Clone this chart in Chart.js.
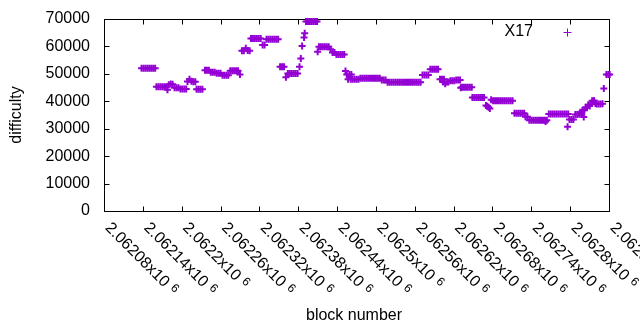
<!DOCTYPE html>
<html>
<head>
<meta charset="utf-8">
<script src="https://cdn.jsdelivr.net/npm/chart.js@4/dist/chart.umd.min.js"></script>
<style>
  html, body { margin: 0; padding: 0; background: #fff; }
  canvas { display: block; }
</style>
</head>
<body>
<canvas id="chart" width="640" height="330"></canvas>
<script>
// difficulty per block
const blockNumbers = [
  2062138, 2062141, 2062144, 2062147, 2062150, 2062153, 2062156, 2062159,
  2062161, 2062164, 2062167, 2062170, 2062173, 2062176, 2062178,
  2062180, 2062183, 2062186, 2062189, 2062192, 2062195,
  2062198, 2062201, 2062204, 2062207,
  2062209, 2062212, 2062215, 2062218, 2062221,
  2062223, 2062226, 2062229, 2062232,
  2062236, 2062239, 2062242,
  2062245, 2062248, 2062251, 2062254, 2062257, 2062260,
  2062263, 2062266, 2062269, 2062272,
  2062275, 2062278, 2062281, 2062284, 2062287, 2062290,
  2062293, 2062296, 2062299, 2062302, 2062305,
  2062307, 2062310, 2062313, 2062316, 2062319, 2062322,
  2062325, 2062328,
  2062331, 2062334, 2062337, 2062340, 2062343, 2062346, 2062349,
  2062352, 2062355, 2062358,
  2062361, 2062364, 2062367, 2062370, 2062373, 2062376, 2062379,
  2062382, 2062384, 2062386, 2062389, 2062390,
  2062392, 2062395, 2062398, 2062401, 2062404, 2062407, 2062409,
  2062410, 2062412, 2062415, 2062418, 2062421, 2062424, 2062427,
  2062430, 2062433, 2062436,
  2062439, 2062442, 2062445, 2062448, 2062451,
  2062453, 2062455, 2062457, 2062459, 2062461, 2062462, 2062464, 2062467, 2062470, 2062473,
  2062476, 2062479, 2062482, 2062485, 2062488, 2062491, 2062494, 2062497, 2062500, 2062503, 2062506,
  2062509, 2062512, 2062515,
  2062518, 2062521, 2062524, 2062527, 2062530, 2062533, 2062536, 2062539, 2062542,
  2062545, 2062548, 2062551, 2062554, 2062557, 2062560, 2062563, 2062566, 2062569,
  2062572, 2062575, 2062578, 2062581,
  2062584, 2062587, 2062590, 2062593, 2062596,
  2062599, 2062602, 2062604, 2062605, 2062607, 2062610, 2062612,
  2062615, 2062618, 2062621,
  2062624, 2062627, 2062630,
  2062631, 2062633, 2062636, 2062639, 2062642, 2062645, 2062648,
  2062649, 2062652, 2062655, 2062658, 2062661, 2062664, 2062667,
  2062670, 2062672, 2062674, 2062676,
  2062678, 2062681, 2062684, 2062687, 2062690, 2062693, 2062696, 2062699, 2062702, 2062705, 2062708, 2062711,
  2062714, 2062717, 2062720, 2062723, 2062726, 2062729,
  2062731, 2062734,
  2062737, 2062740, 2062743, 2062746, 2062749, 2062752, 2062755, 2062758, 2062761, 2062762, 2062764,
  2062767, 2062770, 2062773, 2062776, 2062779, 2062782, 2062785, 2062788, 2062791, 2062794, 2062797,
  2062796, 2062799, 2062802, 2062805,
  2062808, 2062811, 2062814, 2062816, 2062818, 2062819, 2062821, 2062822, 2062824, 2062826,
  2062828, 2062830, 2062832, 2062834, 2062836, 2062837, 2062839, 2062841, 2062844, 2062847, 2062850,
  2062852, 2062856, 2062859, 2062861
];
const difficulty = [
  52000, 52000, 52000, 52000, 52000, 52000, 52000, 52000,
  45300, 45300, 45300, 45300, 45300, 45300, 44200,
  46000, 46300, 46200, 44900, 44900, 44900,
  44500, 44500, 44500, 44500,
  47200, 48000, 47300, 47100, 47100,
  44400, 44400, 44400, 44400,
  51300, 51300, 51300,
  50600, 50600, 50600, 50200, 50200, 50200,
  49500, 49500, 49500, 49500,
  51100, 51100, 51100, 51100, 51100, 49800,
  58400, 58400, 59300, 58500, 58400,
  62900, 62900, 62900, 62900, 62900, 62900,
  60500, 60500,
  62600, 62600, 62600, 62600, 62600, 62600, 62600,
  52600, 52600, 52600,
  48800, 50100, 50100, 50100, 50100, 50100, 50100,
  52600, 55600, 60200, 63300, 64800,
  69100, 69100, 69100, 69100, 69100, 69100, 69100,
  58100, 59900, 59900, 59900, 59900, 59900, 59900,
  59000, 57800, 57800,
  57100, 57100, 57100, 57100, 57100,
  51000, 49800, 48000, 49800, 48000, 49800, 48000, 48000, 48000, 48000,
  48400, 48400, 48400, 48400, 48400, 48400, 48400, 48400, 48400, 48400, 48400,
  47800, 47800, 47800,
  46900, 46900, 46900, 46900, 46900, 46900, 46900, 46900, 46900,
  46900, 46900, 46900, 46900, 46900, 46900, 46900, 46900, 46900,
  49600, 49600, 49600, 49600,
  51700, 51700, 51700, 51700, 51700,
  48000, 48000, 47000, 48000, 46400, 47000, 47000,
  47500, 47500, 47500,
  47800, 47800, 47800,
  44900, 45100, 45100, 45100, 45100, 45100, 45100,
  41400, 41400, 41400, 41400, 41400, 41400, 41400,
  38500, 38200, 37800, 37400,
  40600, 40200, 40200, 40200, 40200, 40200, 40200, 40200, 40200, 40200, 40200, 40200,
  35600, 35600, 35600, 35600, 35600, 35600,
  34400, 34400,
  33100, 33100, 33100, 33100, 33100, 33100, 33100, 33100, 33100, 32600, 33100,
  35400, 35400, 35400, 35400, 35400, 35400, 35400, 35400, 35400, 35400, 35400,
  30700, 33400, 33400, 33400,
  35200, 35200, 35300, 36000, 35200, 36600, 34300, 36800, 37800, 37600,
  38700, 38300, 39200, 40200, 39800, 40300, 39200, 39000, 39000, 39000, 39100,
  44700, 49800, 49800, 49800
];

const xTickValues = [2062080, 2062140, 2062200, 2062260, 2062320, 2062380, 2062440,
  2062500, 2062560, 2062620, 2062680, 2062740, 2062800, 2062860];
const xTickLabels = ['2.06208', '2.06214', '2.0622', '2.06226', '2.06232', '2.06238', '2.06244',
  '2.0625', '2.06256', '2.06262', '2.06268', '2.06274', '2.0628', '2.06286'];
const yTickValues = [0, 10000, 20000, 30000, 40000, 50000, 60000, 70000];
const yTickLabels = ['0', '10000', '20000', '30000', '40000', '50000', '60000', '70000'];
const seriesName = 'X17';

const PURPLE = '#9400d3';
const FONT_FAMILY = '"Liberation Sans", Arial, sans-serif';

// gnuplot-like frame: border with inward ticks on all four sides
const frame = {
    id: 'frame',
    beforeDatasetsDraw(chart) {
        const { ctx, chartArea: a, scales: { x, y } } = chart;
        const L = Math.round(a.left) + 0.5, R = Math.round(a.right) + 0.5;
        const T = Math.round(a.top) + 0.5, B = Math.round(a.bottom) + 0.5;
        ctx.save();
        ctx.strokeStyle = '#000';
        ctx.lineWidth = 1;
        ctx.beginPath();
        ctx.rect(L, T, R - L, B - T);
        xTickValues.forEach(v => {
            const px = Math.round(x.getPixelForValue(v)) + 0.5;
            ctx.moveTo(px, B); ctx.lineTo(px, B - 5);
            ctx.moveTo(px, T); ctx.lineTo(px, T + 5);
        });
        yTickValues.forEach(v => {
            const py = Math.round(y.getPixelForValue(v)) + 0.5;
            ctx.moveTo(L, py); ctx.lineTo(L + 5, py);
            ctx.moveTo(R, py); ctx.lineTo(R - 5, py);
        });
        ctx.stroke();
        ctx.restore();
    },
    afterDraw(chart) {
        const { ctx, chartArea: a, scales: { x, y } } = chart;
        ctx.save();
        ctx.fillStyle = '#000';
        ctx.font = '16px ' + FONT_FAMILY;

        // y tick labels
        ctx.textAlign = 'right';
        ctx.textBaseline = 'middle';
        yTickValues.forEach((v, i) => {
            ctx.fillText(yTickLabels[i], a.left - 14, y.getPixelForValue(v));
        });

        // x tick labels, rotated 45deg clockwise, starting at the tick
        xTickValues.forEach((v, i) => {
            const px = x.getPixelForValue(v);
            ctx.save();
            ctx.translate(px + 3.5, a.bottom + 14.5);
            ctx.rotate(Math.PI / 4);
            ctx.textAlign = 'left';
            ctx.textBaseline = 'middle';
            ctx.font = '16px ' + FONT_FAMILY;
            const main = xTickLabels[i] + 'x10';
            ctx.fillText(main, 0, 0);
            const w = ctx.measureText(main).width;
            ctx.font = '12px ' + FONT_FAMILY;
            ctx.fillText('6', w + 5, -3);
            ctx.restore();
        });

        // axis titles
        ctx.font = '16px ' + FONT_FAMILY;
        ctx.textAlign = 'center';
        ctx.textBaseline = 'middle';
        ctx.fillText('block number', 354, 316);
        ctx.save();
        ctx.translate(17, (a.top + a.bottom) / 2);
        ctx.rotate(-Math.PI / 2);
        ctx.fillText('difficulty', 0, 0);
        ctx.restore();

        // key: title then sample, top right
        ctx.textAlign = 'right';
        ctx.fillText(seriesName, 533, 32);
        ctx.strokeStyle = PURPLE;
        ctx.lineWidth = 1;
        ctx.beginPath();
        ctx.moveTo(563.5, 32.5); ctx.lineTo(571.5, 32.5);
        ctx.moveTo(567.5, 28.5); ctx.lineTo(567.5, 36.5);
        ctx.stroke();
        ctx.restore();
    }
};

new Chart(document.getElementById('chart').getContext('2d'), {
    type: 'scatter',
    data: {
        datasets: [{
            label: seriesName,
            data: blockNumbers.map((b, i) => ({ x: b, y: difficulty[i] })),
            pointStyle: 'cross',
            pointRadius: 3.5,
            pointHoverRadius: 3.5,
            pointBorderWidth: 2,
            pointBorderColor: PURPLE,
            borderColor: PURPLE,
            backgroundColor: PURPLE,
            clip: false
        }]
    },
    options: {
        responsive: false,
        animation: false,
        layout: { padding: { left: 104, right: 31, top: 19, bottom: 119 } },
        scales: {
            x: { type: 'linear', min: 2062080, max: 2062860, display: false },
            y: { min: 0, max: 70000, display: false }
        },
        plugins: {
            legend: { display: false },
            tooltip: { enabled: false }
        }
    },
    plugins: [frame]
});
</script>
</body>
</html>
